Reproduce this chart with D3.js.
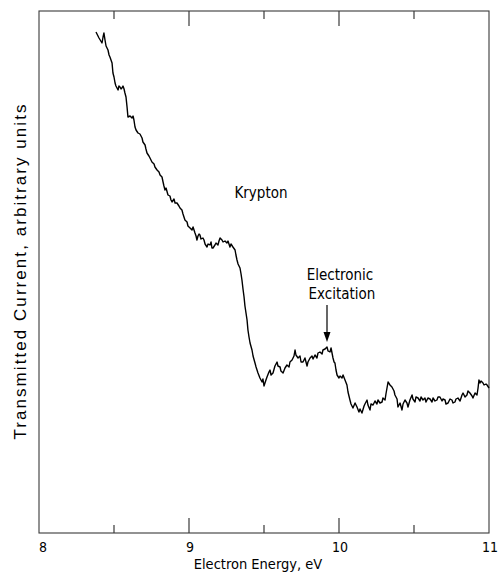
<!DOCTYPE html>
<html>
<head>
<meta charset="utf-8">
<script src="https://cdn.jsdelivr.net/npm/d3@7"></script>
<style>
  html, body { margin: 0; padding: 0; background: #fff; }
  svg { display: block; }
  text { fill: #000; }
</style>
</head>
<body>
<svg id="chart" width="498" height="573"></svg>
<script>
// Transmitted electron current through krypton vs. electron energy (eV)
const energy = [
  8.380, 8.400, 8.420, 8.427, 8.433, 8.440, 8.447, 8.460, 8.467, 8.473,
  8.480, 8.487, 8.493, 8.500, 8.507, 8.513, 8.520, 8.527, 8.533, 8.540,
  8.547, 8.553, 8.560, 8.567, 8.573, 8.580, 8.587, 8.593, 8.607, 8.620,
  8.627, 8.633, 8.640, 8.647, 8.660, 8.673, 8.687, 8.693, 8.707, 8.713,
  8.720, 8.733, 8.740, 8.753, 8.767, 8.773, 8.787, 8.800, 8.807, 8.820,
  8.827, 8.833, 8.840, 8.847, 8.860, 8.873, 8.880, 8.887, 8.900, 8.907,
  8.920, 8.933, 8.940, 8.953, 8.960, 8.973, 8.987, 8.993, 9.007, 9.020,
  9.027, 9.040, 9.047, 9.053, 9.060, 9.067, 9.073, 9.080, 9.093, 9.100,
  9.107, 9.120, 9.127, 9.140, 9.147, 9.153, 9.160, 9.173, 9.180, 9.193,
  9.200, 9.207, 9.220, 9.227, 9.240, 9.253, 9.260, 9.273, 9.280, 9.293,
  9.307, 9.313, 9.320, 9.327, 9.340, 9.347, 9.353, 9.360, 9.367, 9.373,
  9.380, 9.387, 9.393, 9.400, 9.407, 9.420, 9.427, 9.440, 9.447, 9.460,
  9.473, 9.487, 9.493, 9.500, 9.513, 9.520, 9.533, 9.540, 9.547, 9.560,
  9.573, 9.587, 9.593, 9.607, 9.613, 9.627, 9.640, 9.653, 9.667, 9.673,
  9.687, 9.700, 9.707, 9.713, 9.727, 9.740, 9.747, 9.760, 9.773, 9.787,
  9.793, 9.807, 9.820, 9.827, 9.840, 9.853, 9.860, 9.873, 9.887, 9.893,
  9.907, 9.920, 9.927, 9.940, 9.947, 9.960, 9.967, 9.973, 9.980, 9.987,
  10.000, 10.007, 10.020, 10.027, 10.040, 10.053, 10.060, 10.073, 10.080, 10.093,
  10.107, 10.120, 10.133, 10.140, 10.153, 10.167, 10.173, 10.187, 10.193, 10.207,
  10.213, 10.227, 10.240, 10.253, 10.260, 10.273, 10.287, 10.293, 10.307, 10.313,
  10.327, 10.340, 10.353, 10.367, 10.373, 10.387, 10.393, 10.407, 10.420, 10.427,
  10.440, 10.453, 10.460, 10.473, 10.487, 10.493, 10.507, 10.513, 10.527, 10.540,
  10.547, 10.560, 10.573, 10.580, 10.593, 10.607, 10.620, 10.627, 10.640, 10.653,
  10.660, 10.673, 10.687, 10.693, 10.707, 10.713, 10.727, 10.740, 10.753, 10.760,
  10.773, 10.780, 10.793, 10.807, 10.820, 10.827, 10.840, 10.853, 10.860, 10.873,
  10.887, 10.893, 10.907, 10.920, 10.927, 10.933, 10.940, 10.947, 10.960, 10.967,
  10.980, 10.987, 11.000
];
const current = [
  100.2, 99.0, 98.0, 99.2, 100.0, 98.6, 97.4, 96.6, 95.6, 95.2,
  94.6, 94.0, 92.0, 91.2, 90.0, 89.4, 89.0, 88.6, 89.4, 89.2,
  88.8, 89.0, 89.4, 88.8, 88.0, 87.2, 85.2, 83.2, 83.4, 83.0,
  83.4, 82.6, 81.2, 80.6, 80.0, 79.8, 79.0, 78.2, 77.6, 76.8,
  76.0, 75.4, 75.0, 74.2, 73.8, 73.2, 72.6, 72.2, 71.6, 71.2,
  70.2, 69.4, 68.6, 69.0, 67.6, 67.4, 66.6, 66.2, 66.8, 66.0,
  66.0, 65.4, 65.0, 64.6, 63.8, 62.6, 62.2, 61.4, 61.0, 60.6,
  61.2, 60.0, 59.4, 58.6, 59.4, 59.8, 59.6, 58.8, 59.0, 58.6,
  57.8, 57.2, 57.8, 57.6, 58.2, 57.0, 57.0, 57.6, 58.0, 57.6,
  58.4, 59.0, 58.6, 58.2, 58.4, 58.0, 58.4, 57.2, 57.8, 57.2,
  56.6, 55.6, 54.6, 53.8, 53.0, 51.8, 50.6, 48.8, 47.2, 45.4,
  44.0, 42.6, 40.6, 39.2, 38.0, 36.6, 35.4, 34.0, 33.2, 32.0,
  31.0, 30.2, 30.8, 29.4, 30.6, 31.2, 32.2, 32.6, 31.6, 32.0,
  33.4, 34.2, 33.4, 33.2, 32.4, 32.0, 33.0, 33.6, 33.2, 34.2,
  34.6, 35.4, 36.6, 35.6, 35.0, 35.4, 34.2, 34.2, 35.0, 33.4,
  34.2, 35.0, 35.4, 34.8, 35.6, 35.0, 36.0, 36.2, 35.8, 36.6,
  36.8, 37.2, 36.4, 36.2, 37.0, 35.0, 34.2, 34.0, 32.6, 31.6,
  31.0, 31.4, 31.0, 31.6, 30.6, 29.6, 28.2, 26.6, 25.8, 25.0,
  26.0, 25.2, 24.2, 24.8, 24.0, 25.4, 25.8, 26.6, 25.6, 24.6,
  25.8, 25.6, 26.4, 25.8, 26.6, 26.0, 26.2, 27.0, 26.6, 27.8,
  30.2, 29.6, 29.2, 28.4, 27.6, 26.8, 25.2, 26.0, 24.6, 25.8,
  26.6, 26.0, 25.2, 26.6, 27.6, 26.8, 26.2, 27.2, 27.0, 26.4,
  27.2, 26.6, 27.0, 26.2, 27.0, 26.8, 26.2, 27.0, 26.4, 26.6,
  27.2, 27.2, 26.4, 26.8, 26.6, 25.8, 26.0, 26.8, 26.6, 26.0,
  26.2, 26.8, 27.0, 26.4, 27.6, 28.0, 27.2, 27.6, 28.4, 28.0,
  27.4, 27.0, 28.0, 27.6, 29.0, 30.6, 30.0, 30.4, 30.0, 29.6,
  29.8, 29.6, 29.0
];
const majorTicks = [8, 9, 10, 11];
const minorTicks = [8.5, 9.5, 10.5];
const tickLabels = ["8", "9", "10", "11"];

const svg = d3.select("#chart");
const margin = { left: 39, right: 9, top: 11, bottom: 40 };
const W = 498, H = 573;

const x = d3.scaleLinear().domain([8, 11]).range([margin.left, W - margin.right]);
const y = d3.scaleLinear().domain([0, 104.4]).range([H - margin.bottom, margin.top]);

const frameColor = "#3a3a3a";

// plot frame
svg.append("rect")
  .attr("x", x(8)).attr("y", y(104.4))
  .attr("width", x(11) - x(8)).attr("height", y(0) - y(104.4))
  .attr("fill", "none").attr("stroke", frameColor).attr("stroke-width", 1.1);

// inward ticks on bottom and top edges
const tickSet = majorTicks.slice(1, -1).map(v => ({ v, len: 15 }))
  .concat(minorTicks.map(v => ({ v, len: 8 })));
svg.append("g").selectAll("line").data(tickSet).join("line")
  .attr("x1", d => x(d.v)).attr("x2", d => x(d.v))
  .attr("y1", y(0)).attr("y2", d => y(0) - d.len)
  .attr("stroke", frameColor).attr("stroke-width", 1.2);
svg.append("g").selectAll("line").data(tickSet).join("line")
  .attr("x1", d => x(d.v)).attr("x2", d => x(d.v))
  .attr("y1", y(104.4)).attr("y2", d => y(104.4) + d.len)
  .attr("stroke", frameColor).attr("stroke-width", 1.2);

const labelFont = "'DejaVu Sans Condensed', 'Liberation Sans Narrow', 'DejaVu Sans', sans-serif";

// tick labels
svg.append("g").selectAll("text").data(majorTicks).join("text")
  .attr("x", (d, i) => x(d) + (i === 0 ? 4 : 1))
  .attr("y", 552)
  .attr("text-anchor", "middle")
  .style("font-family", labelFont).style("font-size", "14px")
  .text((d, i) => tickLabels[i]);

// axis titles
svg.append("text")
  .attr("x", 258).attr("y", 569)
  .attr("text-anchor", "middle")
  .style("font-family", labelFont).style("font-size", "14.5px")
  .text("Electron Energy, eV");

svg.append("text")
  .attr("transform", "translate(26,272) rotate(-90)")
  .attr("text-anchor", "middle")
  .attr("textLength", 335)
  .attr("lengthAdjust", "spacing")
  .style("font-family", "'Liberation Sans', Arial, sans-serif").style("font-size", "17px")
  .text("Transmitted Current, arbitrary units");

// the trace
const pts = energy.map((e, i) => [e, current[i]]);
svg.append("path")
  .datum(pts)
  .attr("fill", "none")
  .attr("stroke", "#000")
  .attr("stroke-width", 1.4)
  .attr("stroke-linejoin", "round")
  .attr("d", d3.line().x(d => x(d[0])).y(d => y(d[1])));

// annotations
svg.append("text")
  .attr("x", 261).attr("y", 198)
  .attr("text-anchor", "middle")
  .style("font-family", labelFont).style("font-size", "15px")
  .text("Krypton");

const excE = 9.92;
svg.append("text")
  .attr("x", 340).attr("y", 280)
  .attr("text-anchor", "middle")
  .style("font-family", labelFont).style("font-size", "15px")
  .text("Electronic");
svg.append("text")
  .attr("x", 342).attr("y", 299)
  .attr("text-anchor", "middle")
  .style("font-family", labelFont).style("font-size", "15px")
  .text("Excitation");

svg.append("line")
  .attr("x1", x(excE)).attr("x2", x(excE))
  .attr("y1", 305).attr("y2", 334)
  .attr("stroke", "#000").attr("stroke-width", 1.2);
svg.append("path")
  .attr("d", `M${x(excE) - 3.5},332 L${x(excE) + 3.5},332 L${x(excE)},342 Z`)
  .attr("fill", "#000");
</script>
</body>
</html>
